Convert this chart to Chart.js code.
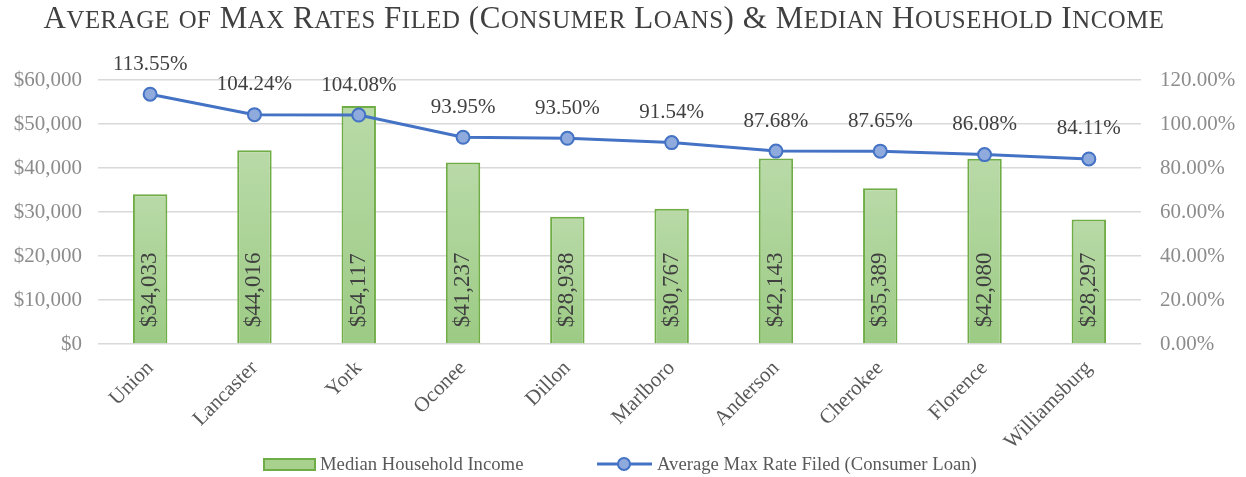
<!DOCTYPE html>
<html>
<head>
<meta charset="utf-8">
<script src="https://cdn.jsdelivr.net/npm/chart.js@4.4.1/dist/chart.umd.min.js"></script>
<style>
  body { margin: 0; background: #fff; }
  #wrap { position: relative; width: 1246px; height: 477px; }
  #title {
    position: absolute; left: -19px; top: 2px; width: 1246px; text-align: center;
    font-family: "Liberation Serif", serif; font-size: 31px; line-height: 31px;
    letter-spacing: 0.55px; color: #404040; white-space: nowrap;
  }
  #title .sc { font-size: 0.8em; text-transform: uppercase; }
  canvas { position: absolute; left: 0; top: 0; }
</style>
</head>
<body>
<div id="wrap">
  <canvas id="chart" width="1246" height="477"></canvas>
  <div id="title"></div>
</div>
<script>
const titleText = "Average of Max Rates Filed (Consumer Loans) & Median Household Income";
const counties = ["Union", "Lancaster", "York", "Oconee", "Dillon", "Marlboro", "Anderson", "Cherokee", "Florence", "Williamsburg"];
const income = [34033, 44016, 54117, 41237, 28938, 30767, 42143, 35389, 42080, 28297];
const maxRate = [1.1355, 1.0424, 1.0408, 0.9395, 0.9350, 0.9154, 0.8768, 0.8765, 0.8608, 0.8411];

const serif = "Liberation Serif";

// small caps like Word: lowercase runs drawn as smaller capitals
const titleEl = document.getElementById("title");
titleText.split(/([a-z]+)/).forEach(part => {
  if (!part) return;
  if (/^[a-z]+$/.test(part)) {
    const s = document.createElement("span");
    s.className = "sc";
    s.textContent = part;
    titleEl.appendChild(s);
  } else {
    titleEl.appendChild(document.createTextNode(part));
  }
});

function barFill(ctx) {
  const chart = ctx.chart;
  if (!chart.chartArea || ctx.parsed === undefined) return "#a9d18e";
  const y = chart.scales.y;
  const top = y.getPixelForValue(ctx.parsed.y);
  const g = chart.ctx.createLinearGradient(0, top, 0, y.bottom);
  g.addColorStop(0, "#b9daa8");
  g.addColorStop(1, "#9ccb84");
  return g;
}

const labelPlugin = {
  id: "labels",
  afterDatasetsDraw(chart) {
    const c = chart.ctx;
    c.save();
    // bar values, rotated, inside base
    c.font = "23px " + serif;
    c.fillStyle = "#404040";
    c.textAlign = "left";
    c.textBaseline = "middle";
    chart.getDatasetMeta(0).data.forEach((bar, i) => {
      c.save();
      c.translate(bar.x, bar.base - 16);
      c.rotate(-Math.PI / 2);
      c.fillText("$" + income[i].toLocaleString("en-US"), 0, 0);
      c.restore();
    });
    // line values above points
    c.font = "21px " + serif;
    c.textAlign = "center";
    chart.getDatasetMeta(1).data.forEach((pt, i) => {
      c.fillText((maxRate[i] * 100).toFixed(2) + "%", pt.x, pt.y - 30);
    });
    c.restore();
  },
  afterDraw(chart) {
    const c = chart.ctx;
    c.save();
    const y = 464;
    // bar legend
    c.fillStyle = "#a9d18e";
    c.strokeStyle = "#70ad47";
    c.lineWidth = 2;
    c.fillRect(264, y - 5, 51, 11);
    c.strokeRect(264, y - 5, 51, 11);
    c.font = "18.7px " + serif;
    c.fillStyle = "#595959";
    c.textBaseline = "middle";
    c.textAlign = "left";
    c.fillText("Median Household Income", 320, y + 1);
    // line legend
    c.strokeStyle = "#4472c4";
    c.lineWidth = 3;
    c.beginPath();
    c.moveTo(597, y);
    c.lineTo(652, y);
    c.stroke();
    c.beginPath();
    c.arc(624, y, 6, 0, Math.PI * 2);
    c.fillStyle = "#8faadc";
    c.fill();
    c.lineWidth = 2;
    c.stroke();
    c.fillStyle = "#595959";
    c.fillText("Average Max Rate Filed (Consumer Loan)", 657, y + 1);
    c.restore();
  }
};

new Chart(document.getElementById("chart"), {
  data: {
    labels: counties,
    datasets: [
      {
        type: "bar",
        label: "Median Household Income",
        data: income,
        yAxisID: "y",
        backgroundColor: barFill,
        borderColor: "#70ad47",
        borderWidth: 2,
        barPercentage: 0.66,
        categoryPercentage: 0.5,
        order: 2
      },
      {
        type: "line",
        label: "Average Max Rate Filed (Consumer Loan)",
        data: maxRate,
        yAxisID: "y1",
        borderColor: "#4472c4",
        borderWidth: 3,
        pointRadius: 6.5,
        pointBackgroundColor: "#8faadc",
        pointBorderColor: "#4472c4",
        pointBorderWidth: 2,
        tension: 0,
        order: 1
      }
    ]
  },
  options: {
    responsive: false,
    animation: false,
    layout: { padding: { top: 80, left: 0, right: 0, bottom: 0 } },
    plugins: {
      legend: { display: false },
      tooltip: { enabled: false }
    },
    scales: {
      x: {
        grid: { display: false },
        border: { display: false },
        ticks: {
          minRotation: 45, maxRotation: 45, padding: 4,
          color: "#595959", font: { family: serif, size: 21 }
        },
        afterFit(s) { s.height = 133; }
      },
      y: {
        position: "left",
        min: 0, max: 60000,
        grid: { color: "#d9d9d9", lineWidth: 1.5, drawTicks: false },
        border: { display: false },
        ticks: {
          stepSize: 10000, padding: 16, color: "#8c8c8c",
          font: { family: serif, size: 21 },
          callback: v => "$" + v.toLocaleString("en-US")
        },
        afterFit(s) { s.width = 98; }
      },
      y1: {
        position: "right",
        min: 0, max: 1.2,
        grid: { display: false, drawTicks: false },
        border: { display: false },
        ticks: {
          stepSize: 0.2, padding: 19, color: "#8c8c8c",
          font: { family: serif, size: 21 },
          callback: v => (v * 100).toFixed(2) + "%"
        },
        afterFit(s) { s.width = 105; }
      }
    }
  },
  plugins: [labelPlugin]
});
</script>
</body>
</html>
